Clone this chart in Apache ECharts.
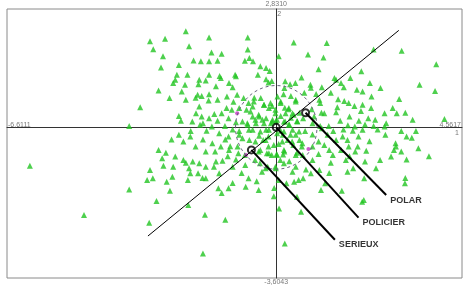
<!DOCTYPE html>
<html>
<head>
<meta charset="utf-8">
<script src="https://cdn.jsdelivr.net/npm/echarts@6/dist/echarts.min.js"></script>
<style>html,body{margin:0;padding:0;background:#fff}#c{width:468px;height:287px}</style>
</head>
<body>
<div id="c"></div>
<script>
// Axis bounds / tick labels
const xMin = -6.6111, xMax = 4.5617, yMin = -3.6043, yMax = 2.8310;
const boundLabels = ['-6,6111', '4,5617', '2,8310', '-3,6043'];
const axisNames = ['1', '2'];

// Individuals (green triangles)
const individuals = [[-2.22,2.30],[-1.65,2.15],[-0.70,2.15],[-2.73,2.12],[-3.10,2.06],[0.43,2.03],[1.24,2.02],[-2.14,1.94],[-3.02,1.87],[-0.70,1.86],[-1.59,1.79],[-1.34,1.76],[3.08,1.83],[2.39,1.86],[0.78,1.74],[1.16,1.67],[-2.78,1.70],[0.06,1.70],[-2.03,1.60],[-1.85,1.58],[-1.65,1.58],[-1.44,1.59],[-0.77,1.59],[-0.66,1.66],[-0.57,1.58],[3.93,1.51],[-2.83,1.43],[-0.39,1.46],[-0.25,1.42],[-2.39,1.49],[1.04,1.39],[-0.16,1.35],[2.09,1.34],[-2.44,1.26],[-2.18,1.26],[-1.65,1.26],[-1.39,1.23],[-1.01,1.26],[-0.45,1.26],[1.43,1.18],[1.82,1.18],[1.47,1.14],[-2.48,1.14],[-1.89,1.14],[-1.73,1.12],[-1.36,1.18],[-0.99,1.22],[-0.25,1.15],[-0.11,1.11],[0.62,1.19],[-2.53,1.06],[-2.24,1.02],[-1.91,1.03],[-1.16,1.06],[-0.19,1.07],[0.22,1.10],[0.34,1.03],[0.47,1.06],[0.84,1.02],[1.59,1.06],[2.30,1.06],[3.52,1.02],[-1.48,0.98],[-1.07,0.96],[0.20,0.94],[0.85,0.95],[1.12,0.96],[1.66,0.96],[2.56,0.94],[1.98,0.90],[-2.89,0.88],[-2.32,0.86],[2.12,0.86],[3.90,0.87],[0.69,0.83],[0.98,0.80],[1.34,0.83],[0.18,0.79],[-1.93,0.78],[-1.83,0.75],[-1.65,0.79],[-1.21,0.74],[-0.96,0.78],[-0.54,0.71],[-0.38,0.70],[0.03,0.74],[0.36,0.75],[2.34,0.74],[-2.62,0.70],[-2.22,0.66],[-1.98,0.71],[-1.66,0.64],[-1.44,0.66],[3.02,0.68],[0.48,0.66],[1.06,0.66],[1.52,0.67],[-3.34,0.48],[-0.68,0.58],[-0.30,0.54],[-0.10,0.51],[0.11,0.62],[1.08,0.58],[1.67,0.63],[1.78,0.58],[1.92,0.51],[2.86,0.46],[2.12,0.54],[-1.89,0.50],[-1.22,0.46],[-1.05,0.61],[-0.91,0.46],[-0.58,0.50],[0.21,0.47],[0.30,0.43],[0.87,0.43],[1.50,0.48],[2.33,0.46],[-1.97,0.34],[-1.52,0.32],[-1.34,0.34],[-1.09,0.42],[-0.73,0.42],[-0.02,0.34],[0.40,0.34],[0.57,0.35],[1.11,0.35],[1.18,0.34],[1.47,0.36],[2.08,0.39],[2.66,0.34],[2.96,0.34],[3.17,0.35],[4.13,0.20],[-2.39,0.27],[-1.83,0.26],[-1.65,0.22],[-1.17,0.22],[-0.58,0.26],[-0.42,0.26],[-0.25,0.22],[0.11,0.27],[0.36,0.23],[0.66,0.22],[0.93,0.26],[1.80,0.26],[2.26,0.22],[3.35,0.18],[-2.34,0.16],[-2.06,0.14],[-1.80,0.10],[-1.44,0.16],[-0.99,0.12],[-0.83,0.14],[-0.34,0.18],[-0.09,0.18],[-0.01,0.15],[0.22,0.14],[0.51,0.15],[1.57,0.16],[2.03,0.16],[2.43,0.18],[2.70,0.10],[-3.61,0.03],[-1.87,0.06],[-1.58,0.02],[-1.26,0.03],[-0.70,0.06],[-0.50,0.10],[-0.13,0.10],[0.32,0.07],[0.89,0.10],[1.08,0.03],[1.29,0.03],[1.76,0.05],[1.93,0.02],[2.18,0.07],[2.39,0.03],[2.66,0.02],[-2.10,-0.09],[-1.71,-0.08],[-1.07,-0.05],[-0.91,-0.09],[-0.58,-0.06],[-0.25,-0.06],[0.11,-0.08],[0.40,-0.06],[0.71,-0.09],[1.12,-0.02],[1.40,-0.09],[1.65,-0.05],[1.88,-0.08],[2.12,-0.06],[2.49,-0.05],[3.07,-0.09],[3.43,-0.09],[-2.39,-0.18],[-2.11,-0.22],[-1.40,-0.14],[-1.17,-0.22],[-0.91,-0.18],[-0.42,-0.20],[-0.19,-0.22],[0.16,-0.18],[0.48,-0.18],[0.89,-0.17],[1.26,-0.18],[1.63,-0.22],[2.02,-0.22],[2.68,-0.18],[3.20,-0.22],[3.33,-0.25],[-2.57,-0.29],[-2.28,-0.34],[-1.80,-0.29],[-1.25,-0.29],[-0.83,-0.26],[-0.66,-0.30],[-0.32,-0.30],[0.28,-0.30],[0.57,-0.30],[1.04,-0.34],[1.47,-0.30],[1.75,-0.30],[2.29,-0.33],[2.93,-0.38],[-1.98,-0.46],[-1.57,-0.38],[-1.36,-0.46],[-1.13,-0.45],[-0.95,-0.46],[-0.19,-0.46],[0.06,-0.40],[0.42,-0.42],[0.63,-0.46],[0.89,-0.46],[1.18,-0.42],[1.78,-0.46],[2.00,-0.46],[2.94,-0.46],[3.49,-0.50],[-2.89,-0.54],[-2.71,-0.61],[-1.73,-0.58],[-1.50,-0.58],[-1.16,-0.54],[-0.39,-0.54],[0.20,-0.58],[0.51,-0.61],[1.30,-0.54],[1.59,-0.54],[1.94,-0.58],[2.21,-0.56],[2.89,-0.54],[3.07,-0.58],[-2.48,-0.70],[-1.19,-0.69],[-0.93,-0.62],[-0.77,-0.66],[-0.23,-0.62],[-0.11,-0.66],[0.01,-0.64],[0.17,-0.65],[0.65,-0.66],[1.04,-0.64],[1.39,-0.66],[1.80,-0.69],[2.82,-0.70],[3.75,-0.69],[-6.05,-0.92],[-2.80,-0.74],[-2.28,-0.78],[-2.22,-0.85],[-2.05,-0.82],[-1.89,-0.86],[-1.48,-0.82],[-1.32,-0.80],[-0.99,-0.77],[-0.52,-0.78],[-0.40,-0.86],[0.10,-0.78],[0.32,-0.81],[0.89,-0.78],[1.34,-0.85],[1.71,-0.78],[2.18,-0.82],[2.55,-0.78],[3.20,-0.77],[-3.10,-1.02],[-2.77,-0.92],[-2.53,-0.94],[-2.14,-0.98],[-1.73,-0.94],[-1.53,-0.94],[-1.07,-0.94],[-0.76,-0.90],[-0.21,-0.94],[-0.01,-0.98],[0.48,-0.94],[0.73,-1.01],[1.06,-1.02],[1.89,-0.98],[2.45,-0.98],[-2.11,-1.10],[-1.92,-1.10],[-1.40,-1.10],[-0.85,-1.09],[-0.35,-1.06],[0.40,-1.06],[0.85,-1.10],[1.30,-1.09],[1.75,-1.06],[-3.17,-1.26],[-3.03,-1.22],[-2.55,-1.18],[-2.17,-1.26],[-1.81,-1.21],[-1.73,-1.22],[-0.68,-1.22],[0.06,-1.26],[0.44,-1.30],[0.55,-1.26],[0.66,-1.22],[2.16,-1.22],[3.17,-1.21],[-2.69,-1.30],[-1.07,-1.33],[-0.48,-1.29],[0.25,-1.34],[1.20,-1.34],[3.16,-1.34],[-3.61,-1.49],[-2.61,-1.52],[-1.42,-1.46],[-1.17,-1.46],[-0.75,-1.42],[-0.43,-1.50],[-0.05,-1.45],[1.10,-1.50],[1.61,-1.52],[-1.34,-1.57],[-0.06,-1.65],[2.11,-1.78],[2.15,-1.74],[-2.94,-1.76],[-2.16,-1.86],[0.51,-1.66],[0.07,-1.94],[0.61,-2.02],[-4.72,-2.10],[-1.75,-2.09],[-1.25,-2.21],[-3.12,-2.28],[0.21,-2.78],[-1.80,-3.02],
[-0.80,0.70],[-0.55,0.62],[-0.30,0.54],[-0.14,0.58],[0.11,0.58],[0.48,0.62],[-0.63,0.38],[-0.43,0.30],[-0.18,0.46],[-0.02,0.42],[0.23,0.34],[0.31,0.46],[0.43,0.30],[-0.71,0.10],[-0.51,0.18],[-0.30,0.10],[-0.10,0.14],[0.02,0.18],[0.19,0.14],[0.31,0.06],[0.52,0.14],[-0.67,-0.06],[-0.39,-0.10],[-0.18,-0.06],[0.02,-0.14],[0.19,-0.10],[0.35,-0.18],[0.56,-0.10],[-0.51,-0.34],[-0.26,-0.30],[-0.06,-0.42],[0.15,-0.34],[0.39,-0.34],[0.64,-0.38],[-0.43,-0.58],[-0.18,-0.62],[0.02,-0.66],[0.19,-0.54],[0.48,-0.66],[-0.26,-0.98],[-0.02,-0.94],[0.19,-0.86]];

// Supplementary points (magenta)
const supplementary = [[-0.96,0.34],[-0.74,-0.66],[0.79,-0.52]];

// Modalities
const modalityNames = ['POLAR', 'POLICIER', 'SERIEUX'];
const modalityX = [0.72, 0.00, -0.61];
const modalityY = [0.35, 0.00, -0.54];
const labelEndX = [2.70, 2.02, 1.44];
const labelEndY = [-1.62, -2.16, -2.69];

// Diagonal axis line
const diagStart = [-3.15, -2.60];
const diagEnd = [3.01, 2.32];

// Correlation circle: center x, center y, radius
const unitCircle = [[0, 0, 1]];

const chart = echarts.init(document.getElementById('c'), null, {renderer: 'canvas'});
const FONT = 'Liberation Sans';

const boundLabelData = [
  {value: [xMin, 0], label: {formatter: boundLabels[0], align: 'left', verticalAlign: 'bottom', position: [1, 1]}},
  {value: [xMax, 0], label: {formatter: boundLabels[1], align: 'right', verticalAlign: 'bottom', position: [-1, 1]}},
  {value: [0, yMax], label: {formatter: boundLabels[2], align: 'center', verticalAlign: 'bottom', position: [0, -1]}},
  {value: [0, yMin], label: {formatter: boundLabels[3], align: 'center', verticalAlign: 'top', position: [0, 1]}},
  {value: [xMax, 0], label: {formatter: axisNames[0], align: 'right', verticalAlign: 'top', position: [-3, 2]}},
  {value: [0, yMax], label: {formatter: axisNames[1], align: 'left', verticalAlign: 'top', position: [1, 2]}}
];

chart.setOption({
  animation: false,
  backgroundColor: '#ffffff',
  grid: {left: 7, right: 6, top: 9, bottom: 9, show: true, borderColor: '#8a8a8a', borderWidth: 1},
  xAxis: {
    type: 'value', min: xMin, max: xMax,
    axisLine: {show: true, onZero: true, lineStyle: {color: '#333', width: 1}},
    axisTick: {show: false}, axisLabel: {show: false}, splitLine: {show: false}
  },
  yAxis: {
    type: 'value', min: yMin, max: yMax,
    axisLine: {show: true, onZero: true, lineStyle: {color: '#333', width: 1}},
    axisTick: {show: false}, axisLabel: {show: false}, splitLine: {show: false}
  },
  series: [
    {
      type: 'scatter', data: individuals, symbol: 'triangle', symbolSize: 6,
      itemStyle: {color: '#22c422'}, z: 2, silent: true
    },
    {
      type: 'scatter', data: supplementary, symbol: 'circle', symbolSize: 4,
      itemStyle: {color: '#c030c0'}, z: 3, silent: true
    },
    {
      type: 'custom', data: unitCircle, z: 4, silent: true,
      renderItem: function (params, api) {
        const c = api.coord([api.value(0), api.value(1)]);
        const s = api.size([api.value(2), api.value(2)]);
        return {
          type: 'ellipse',
          shape: {cx: c[0], cy: c[1], rx: s[0], ry: s[1]},
          style: {fill: null, stroke: '#6a6480', lineWidth: 1, lineDash: [3, 3]}
        };
      }
    },
    {
      type: 'lines', coordinateSystem: 'cartesian2d', z: 4, silent: true,
      data: [{coords: [diagStart, diagEnd]}],
      lineStyle: {color: '#000', width: 1, opacity: 1}
    },
    {
      type: 'lines', coordinateSystem: 'cartesian2d', z: 5, silent: true,
      data: modalityNames.map((n, i) => ({coords: [[modalityX[i], modalityY[i]], [labelEndX[i], labelEndY[i]]]})),
      lineStyle: {color: '#000', width: 2, opacity: 1}
    },
    {
      type: 'scatter', z: 6, silent: true,
      data: modalityNames.map((n, i) => [modalityX[i], modalityY[i]]),
      symbol: 'circle', symbolSize: 7,
      itemStyle: {color: 'rgba(0,0,0,0)', borderColor: '#000', borderWidth: 2}
    },
    {
      type: 'scatter', z: 7, silent: true, symbolSize: 0,
      data: modalityNames.map((n, i) => ({value: [labelEndX[i], labelEndY[i]], name: n})),
      label: {
        show: true, formatter: '{b}', position: 'right', distance: 4, offset: [0, 5],
        color: '#000', fontFamily: FONT, fontSize: 9, fontWeight: 'bold'
      }
    },
    {
      type: 'scatter', z: 7, silent: true, symbolSize: 0, clip: false,
      data: boundLabelData,
      label: {show: true, color: '#555', fontFamily: FONT, fontSize: 7}
    }
  ]
});
</script>
</body>
</html>
